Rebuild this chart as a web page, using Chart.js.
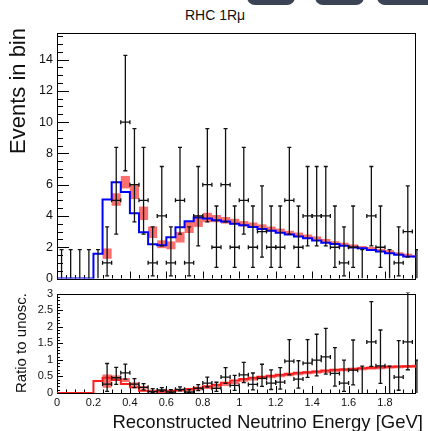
<!DOCTYPE html>
<html>
<head>
<meta charset="utf-8">
<script src="https://cdn.jsdelivr.net/npm/chart.js@4.4.1/dist/chart.umd.min.js"></script>
<style>
  body { margin: 0; background: #fff; }
  #page { position: relative; width: 428px; height: 431px; overflow: hidden; background: #fff;
          font-family: "Liberation Sans", Arial, sans-serif; color: #111; }
  .tab { position: absolute; top: -20px; height: 25px; background: #3b4454; border-radius: 8px; }
  .lbl { position: absolute; white-space: nowrap; line-height: 1; }
  .rot { transform: rotate(-90deg); transform-origin: 0 0; text-align: right; }
  canvas { position: absolute; left: 0; }
</style>
</head>
<body>
<div id="page">
  <div class="tab" style="left:247px;width:48px"></div>
  <div class="tab" style="left:315px;width:49px"></div>
  <div class="tab" style="left:377px;width:60px"></div>
  <div class="lbl" style="left:185px;top:8px;font-size:14px">RHC 1Rμ</div>
  <canvas id="spectrum" width="428" height="290" style="top:0"></canvas>
  <canvas id="ratio" width="428" height="148" style="top:283px"></canvas>
  <div class="lbl rot" style="left:7px;top:200px;width:172px;font-size:22px">Events in bin</div>
  <div class="lbl rot" style="left:13px;top:420px;width:127px;font-size:15px">Ratio to unosc.</div>
  <div class="lbl" style="right:5px;top:413px;font-size:18.5px">Reconstructed Neutrino Energy [GeV]</div>
</div>
<script>
// reconstructed energy bins (centres, GeV)
const energyBins = [0.025, 0.075, 0.125, 0.175, 0.225, 0.275, 0.325, 0.375, 0.425, 0.475,
  0.525, 0.575, 0.625, 0.675, 0.725, 0.775, 0.825, 0.875, 0.925, 0.975,
  1.025, 1.075, 1.125, 1.175, 1.225, 1.275, 1.325, 1.375, 1.425, 1.475,
  1.525, 1.575, 1.625, 1.675, 1.725, 1.775, 1.825, 1.875, 1.925, 1.975];
const binHalfWidth = 0.025;

// observed events per bin
const dataCounts = [0, 0, 0, 0, 0, 1, 5, 10, 6, 5,
  1, 4, 1, 5, 1, 4, 6, 2, 6, 2,
  5, 2, 3, 2, 2, 5, 2, 4, 4, 4,
  2, 1, 2, 0, 4, 2, 0, 1, 3, 0];

// oscillated prediction and its systematic band
const mcOsc = [0, 0, 0, 0, 0, 1.59, 5.05, 6.16, 5.53, 4.17,
  2.96, 2.19, 2.12, 2.64, 3.28, 3.66, 3.90, 3.83, 3.72, 3.64,
  3.50, 3.41, 3.30, 3.17, 3.05, 2.92, 2.81, 2.69, 2.58, 2.43,
  2.28, 2.20, 2.09, 1.99, 1.93, 1.82, 1.73, 1.61, 1.52, 1.41];
const mcOscErr = [0, 0, 0, 0, 0, 0.33, 0.40, 0.40, 0.45, 0.43,
  0.37, 0.25, 0.25, 0.34, 0.37, 0.36, 0.30, 0.23, 0.21, 0.18,
  0.17, 0.17, 0.16, 0.15, 0.14, 0.13, 0.13, 0.12, 0.11, 0.10,
  0.10, 0.09, 0.09, 0.09, 0.08, 0.08, 0.08, 0.07, 0.07, 0.07];

// data / unoscillated prediction (null: no unoscillated events)
const ratioData = [null, null, null, null, null, 0.27, 0.46, 0.61, 0.27, 0.17,
  0.04, 0.09, 0.03, 0.11, 0.03, 0.14, 0.30, 0.14, 0.48, 0.23,
  0.55, 0.26, 0.44, 0.30, 0.33, 0.96, 0.42, 0.90, 0.99, 1.09,
  0.59, 0.30, 0.69, 0, 1.54, 0.82, 0, 0.48, 1.54, 0];
// upper edge of the ratio error for empty bins
const ratioEmptyTop = [null, null, null, null, null, null, null, null, null, null,
  null, null, null, null, null, null, null, null, null, null,
  null, null, null, null, null, null, null, null, null, null,
  null, null, null, 0.81, null, null, 0.81, null, null, 0.99];

// oscillated / unoscillated prediction
const mcRatio = [0, 0, 0, 0, 0, 0.36, 0.46, 0.39, 0.27, 0.17,
  0.07, 0.05, 0.04, 0.07, 0.09, 0.12, 0.16, 0.20, 0.25, 0.31,
  0.38, 0.42, 0.46, 0.49, 0.52, 0.55, 0.58, 0.61, 0.63, 0.65,
  0.68, 0.70, 0.71, 0.73, 0.75, 0.76, 0.78, 0.79, 0.80, 0.81];
const mcRatioErr = [0, 0, 0, 0, 0, 0.20, 0.07, 0.06, 0.05, 0.04,
  0.03, 0.03, 0.03, 0.03, 0.03, 0.04, 0.04, 0.04, 0.04, 0.04,
  0.04, 0.045, 0.045, 0.045, 0.045, 0.045, 0.045, 0.045, 0.045, 0.045,
  0.045, 0.045, 0.045, 0.045, 0.045, 0.045, 0.045, 0.045, 0.045, 0.045];

// 68% Poisson (Garwood) intervals for n = 0..10
const poissonLow = [0, 0.827, 1.292, 1.633, 1.914, 2.159, 2.380, 2.581, 2.768, 2.945, 3.108];
const poissonHigh = [1.841, 2.299, 2.638, 2.918, 3.162, 3.382, 3.583, 3.770, 3.944, 4.110, 4.266];

const FONT = '"Liberation Sans", Arial, sans-serif';
const BAND = 'rgba(250, 55, 55, 0.72)';

function stepPoints(vals) {
  const pts = energyBins.map((c, i) => ({x: c - binHalfWidth, y: vals[i]}));
  pts.push({x: energyBins[energyBins.length - 1] + binHalfWidth, y: vals[vals.length - 1]});
  return pts;
}

const spectrumBars = dataCounts.map((n, i) => ({
  x: energyBins[i], y: n, lo: n - poissonLow[n], hi: n + poissonHigh[n], empty: n === 0
}));

const ratioBars = [];
ratioData.forEach((r, i) => {
  if (r === null) return;
  const n = dataCounts[i];
  if (n === 0) {
    ratioBars.push({x: energyBins[i], y: 0, lo: 0, hi: ratioEmptyTop[i], empty: true});
  } else {
    ratioBars.push({x: energyBins[i], y: r, lo: r * (n - poissonLow[n]) / n,
      hi: r * (n + poissonHigh[n]) / n, empty: false});
  }
});

function fmt(v) { return String(Number(v.toFixed(2))); }

// frame, inward ticks and band boxes under the curve; error bars on top
function histPlugin(cfg) {
  return {
    id: 'hist',
    beforeDatasetsDraw(chart) {
      const {ctx, chartArea: a, scales: {x, y}} = chart;
      ctx.save();
      ctx.strokeStyle = '#000';
      ctx.lineWidth = 1;
      ctx.beginPath();
      const ty = cfg.yTicks;
      for (let i = 0; i * ty.minor <= y.max + 1e-9; i++) {
        const py = Math.round(y.getPixelForValue(i * ty.minor)) + 0.5;
        const len = i % ty.every === 0 ? ty.long : ty.short;
        ctx.moveTo(a.left, py); ctx.lineTo(a.left + len, py);
      }
      const tx = cfg.xTicks;
      for (let i = 0; i * tx.minor <= x.max + 1e-9; i++) {
        const px = Math.round(x.getPixelForValue(i * tx.minor)) + 0.5;
        const len = i % tx.every === 0 ? tx.long : tx.short;
        ctx.moveTo(px, a.bottom); ctx.lineTo(px, a.bottom - len);
      }
      ctx.stroke();
      ctx.strokeRect(Math.round(a.left) + 0.5, Math.round(a.top) + 0.5,
        Math.round(a.right - a.left) - 1, Math.round(a.bottom - a.top));

      ctx.beginPath();
      ctx.rect(a.left, a.top, a.right - a.left, a.bottom - a.top);
      ctx.clip();
      ctx.fillStyle = BAND;
      cfg.centre.forEach((v, i) => {
        const e = cfg.err[i];
        if (!e) return;
        const x0 = x.getPixelForValue(energyBins[i] - binHalfWidth);
        const x1 = x.getPixelForValue(energyBins[i] + binHalfWidth);
        const y0 = y.getPixelForValue(v + e);
        const y1 = y.getPixelForValue(v - e);
        ctx.fillRect(x0, y0, x1 - x0, y1 - y0);
      });
      ctx.restore();
    },
    afterDatasetsDraw(chart) {
      const {ctx, chartArea: a, scales: {x, y}} = chart;
      const cap = 2;
      ctx.save();
      ctx.beginPath();
      ctx.rect(a.left, a.top - 1, a.right - a.left + 2, a.bottom - a.top + 1);
      ctx.clip();
      ctx.strokeStyle = '#111';
      ctx.lineWidth = 1.3;
      cfg.bars.forEach((b) => {
        const cx = x.getPixelForValue(b.x);
        const x0 = x.getPixelForValue(b.x - binHalfWidth);
        const x1 = x.getPixelForValue(b.x + binHalfWidth);
        const yv = y.getPixelForValue(b.y);
        const yl = y.getPixelForValue(b.lo);
        const yh = y.getPixelForValue(b.hi);
        ctx.beginPath();
        ctx.moveTo(cx, yl); ctx.lineTo(cx, yh);
        ctx.moveTo(cx - cap, yh); ctx.lineTo(cx + cap, yh);
        if (!b.empty) {
          ctx.moveTo(cx - cap, yl); ctx.lineTo(cx + cap, yl);
          ctx.moveTo(x0, yv); ctx.lineTo(x1, yv);
          ctx.moveTo(x0, yv - cap); ctx.lineTo(x0, yv + cap);
          ctx.moveTo(x1, yv - cap); ctx.lineTo(x1, yv + cap);
        }
        ctx.stroke();
      });
      ctx.restore();
    }
  };
}

const commonOpts = {
  responsive: false,
  animation: false,
  events: [],
  plugins: {legend: {display: false}, tooltip: {enabled: false}}
};

new Chart(document.getElementById('spectrum'), {
  type: 'line',
  data: {
    datasets: [{
      data: stepPoints(mcOsc),
      stepped: 'after',
      borderColor: '#0000ff',
      borderWidth: 2,
      pointRadius: 0,
      fill: false
    }]
  },
  options: {
    ...commonOpts,
    layout: {padding: {left: 0, top: 33, right: 12, bottom: 10}},
    scales: {
      x: {type: 'linear', min: 0, max: 1.97, display: false},
      y: {
        type: 'linear', min: 0, max: 15.7,
        grid: {display: false, drawTicks: false},
        border: {display: false},
        ticks: {stepSize: 2, includeBounds: false, autoSkip: false, padding: 4, color: '#111',
          font: {family: FONT, size: 12.5}, callback: fmt},
        afterFit(s) { s.width = 57; }
      }
    }
  },
  plugins: [histPlugin({
    centre: mcOsc, err: mcOscErr, bars: spectrumBars,
    yTicks: {minor: 0.5, every: 4, long: 12, short: 6},
    xTicks: {minor: 0.05, every: 4, long: 7, short: 3.5}
  })]
});

new Chart(document.getElementById('ratio'), {
  type: 'line',
  data: {
    datasets: [{
      data: stepPoints(mcRatio),
      stepped: 'after',
      borderColor: '#ff1c1c',
      borderWidth: 2,
      pointRadius: 0,
      fill: false
    }]
  },
  options: {
    ...commonOpts,
    layout: {padding: {left: 0, top: 8, right: 12, bottom: 0}},
    scales: {
      x: {
        type: 'linear', min: 0, max: 1.97,
        grid: {display: false, drawTicks: false},
        border: {display: false},
        ticks: {stepSize: 0.2, includeBounds: false, autoSkip: false, maxRotation: 0,
          padding: 3, color: '#111', font: {family: FONT, size: 11}, callback: fmt},
        afterFit(s) { s.height = 38; }
      },
      y: {
        type: 'linear', min: 0, max: 3,
        grid: {display: false, drawTicks: false},
        border: {display: false},
        ticks: {stepSize: 0.5, includeBounds: false, autoSkip: false, padding: 4, color: '#111',
          font: {family: FONT, size: 11}, callback: fmt},
        afterFit(s) { s.width = 57; }
      }
    }
  },
  plugins: [histPlugin({
    centre: mcRatio, err: mcRatioErr, bars: ratioBars,
    yTicks: {minor: 0.1, every: 5, long: 6, short: 3},
    xTicks: {minor: 0.05, every: 4, long: 7, short: 3.5}
  })]
});
</script>
</body>
</html>
